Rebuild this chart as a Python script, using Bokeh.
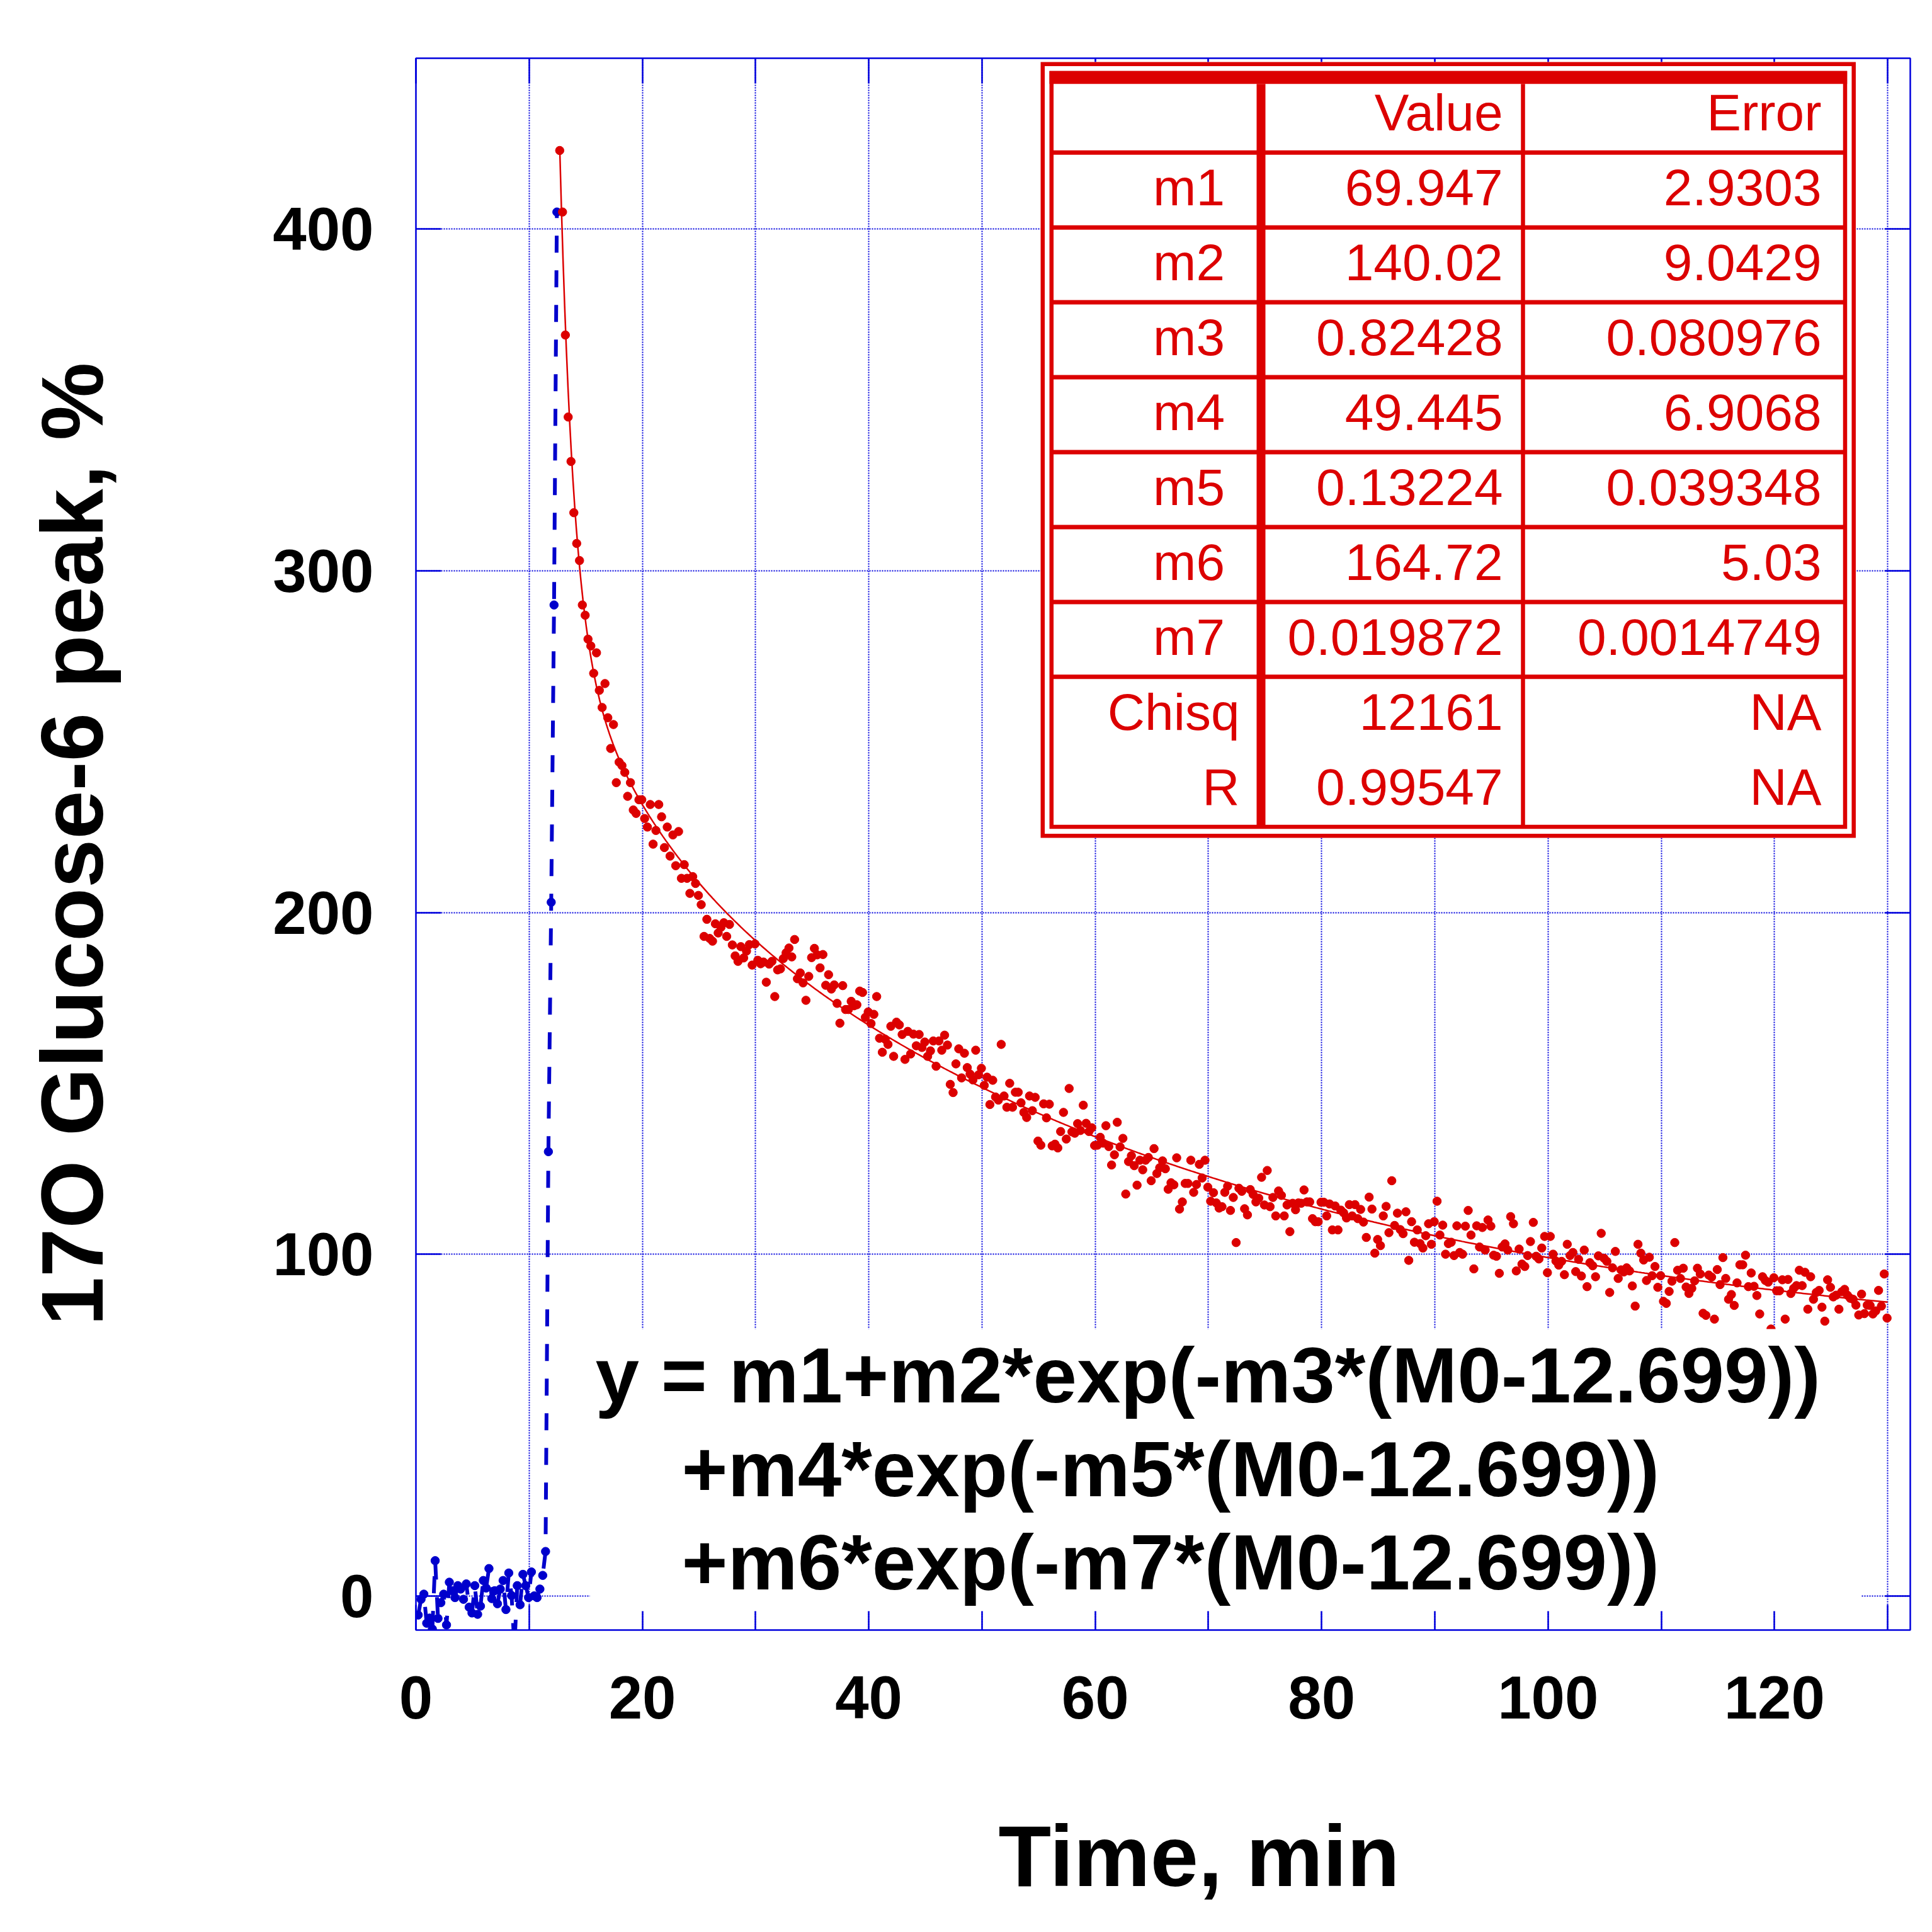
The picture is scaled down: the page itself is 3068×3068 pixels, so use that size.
import numpy as np
from bokeh.plotting import figure
from bokeh.models import Range1d, FixedTicker, LinearAxis, Label, BoxAnnotation, CustomJSTickFormatter
from bokeh.embed import file_html
from bokeh.resources import INLINE
from bokeh.core.properties import value

# ---------------- data ----------------
BLUE_T0 = 0.2
BLUE_DT = 0.25
BLUE_Y = [-5.6, -1, 0.5, -8, -6.5, -9.7, 10.3, -6.6, -2, 0.5,
          -8.5, 4, 1.5, -0.5, 3, 2, -1, 3.5, -3.3, -5,
          3, -5.4, -3, 4.5, 2.3, 8, -0.8, 1.5, -2.3, 2,
          4.5, -4, 6.7, 0.1, -15, 3, -2.6, 6.3, 3, -0.5,
          7, 0, -0.5, 2, 6, 13, 130, 203, 290, 405]

RED_T0 = 12.699
RED_DT = 0.25
RED_Y = [
    423, 405, 369, 345, 332, 317, 308, 303, 290, 287,
    280, 278, 270, 276, 265, 260, 267, 257, 248, 255,
    238, 244, 243, 241, 234, 238, 230, 229, 233, 233,
    227.5, 225, 231.6, 220, 224, 231.6, 228, 219, 225, 216.5,
    222.7, 213.7, 223.7, 210, 214, 210, 205.6, 210.5, 208.5, 205,
    202.3, 193, 198, 192.4, 191.6, 196.7, 194, 195.7, 197, 193,
    196.5, 190.5, 187.3, 185.7, 190, 186.7, 188.7, 190.6, 184.6, 190.8,
    186, 185, 185.5, 179.6, 184.9, 185.7, 175.4, 183.2, 183.5, 186.5,
    188.2, 189.6, 187, 192.1, 180.6, 182.3, 179.4, 174.3, 181.3, 186.8,
    189.5, 187.6, 183.8, 187.7, 178.7, 181.8, 177.6, 178.8, 173.4, 167.6,
    178.6, 171.6, 171.6, 174, 172.7, 173, 177, 176.6, 169.3, 170.9,
    167.5, 170.2, 175.4, 163.2, 159.1, 162.9, 161.4, 166.7, 157.9, 167.9,
    167.1, 164.3, 157, 165.2, 158.6, 164.4, 161, 164.3, 160.5, 162.1,
    157.9, 159.5, 162.4, 155, 162.4, 159.7, 164.1, 161.2, 149.7, 147.3,
    155.7, 160.1, 151.6, 158.8, 154.6, 152.7, 151, 159.7, 152.5, 154.4,
    149.4, 151.8, 143.8, 150.9, 146, 145.1, 161.4, 146.3, 143, 150,
    143, 147.4, 147.4, 144.3, 141.5, 140, 146.3, 142, 145.9, 133.1,
    131.9, 144.0, 139.9, 143.9, 131.7, 132.2, 131.1, 135.9, 141.5, 133.7,
    148.5, 135.8, 135.4, 138.2, 136.2, 143.6, 138.3, 135.9, 137.0, 131.8,
    131.9, 134.2, 132.5, 137.6, 131.5, 126.1, 129.1, 138.6, 131.4, 133.9,
    117.6, 127.1, 128.8, 125.9, 120.2, 127.5, 124.7, 127.5, 128.3, 121.5,
    130.9, 123.6, 125.3, 127.3, 125.0, 119.0, 120.9, 120.3, 128.2, 113.2,
    115.3, 120.7, 120.7, 127.5, 118.1, 120.4, 126.3, 122.3, 127.5, 119.6,
    115.5, 118, 115.0, 113.5, 113.9, 118.1, 119.9, 112.8, 116.6, 103.4,
    119.3, 118.4, 113.3, 111.5, 118.9, 117.5, 115.3, 116.4, 122.5, 114.4,
    124.5, 113.9, 116.6, 111.2, 118.5, 117.2, 111.2, 114.4, 106.6, 114.9,
    113, 115.0, 114.9, 118.8, 115.3, 115.3, 110.4, 109.5, 109.5, 115.2,
    115.2, 111.2, 114.7, 107.1, 114.1, 107.1, 112.9, 112.1, 110.6, 114.5,
    111.2, 114.5, 110.4, 113.1, 109.4, 104.9, 116.7, 113.2, 100.3, 104.3,
    102.5, 111.2, 114.0, 106.3, 121.5, 108.4, 112.0, 107.2, 106.0, 112.4,
    98.2, 109.5, 103.5, 107.1, 103.1, 101.8, 105.4, 108.9, 102.9, 109.5,
    115.5, 105.6, 108.5, 100.0, 103.1, 103.5, 99.6, 108.3, 100.5, 100.0,
    108.2, 112.8, 105.6, 95.7, 108.3, 102.1, 107.8, 101.2, 110.0, 108.2,
    99.7, 99.4, 94.4, 102.1, 103, 101.2, 111.0, 108.9, 95.1, 101.5,
    97.1, 96.4, 99.6, 103.7, 109.3, 99.4, 98.6, 101.8, 105.2, 94.6,
    105.2, 100.0, 98.0, 96.8, 97.9, 94.0, 102.9, 99.6, 100.5, 94.9,
    98.5, 93.6, 101.2, 90.5, 97.5, 96.6, 93.4, 99.5, 106.1, 98.8,
    97.9, 88.8, 96.0, 100.8, 92.9, 95.4, 94.8, 96.0, 95.1, 90.7,
    84.8, 102.9, 100.3, 98.3, 92.3, 99.1, 93.7, 96.4, 90.3, 93.7,
    86.2, 85.6, 89.1, 92.1, 103.4, 95.3, 92.9, 95.9, 90.4, 88.5,
    90.0, 92.2, 95.9, 94.2, 82.7, 82.1, 93.9, 93.3, 81.0, 95.5,
    91.1, 99.0, 92.9, 86.8, 88.2, 85.0, 91.6, 96.9, 96.9, 99.7,
    90.5, 94.5, 90.6, 87.9, 82.5, 93.4, 92.3, 91.8, 78.1, 93.1,
    89.3, 89.3, 92.5, 81.0, 92.6, 88.5, 90, 90.8, 95.3, 90.8,
    94.7, 83.9, 93.4, 86.8, 88.8, 89.4, 84.5, 80.4, 92.5, 90.3,
    87.5, 88.0, 83.9, 89.0, 89.7, 88.0, 87.1, 86.8, 85.1, 82.2,
    88.3, 82.6, 85.1, 85.0, 82.5, 83.4, 89.4, 84.8, 94.2, 81.3,
]

PARAM_NAMES = ["m1", "m2", "m3", "m4", "m5", "m6", "m7"]
PARAM_VALUES = [69.947, 140.02, 0.82428, 49.445, 0.13224, 164.72, 0.019872]
PARAM_ERRORS = [2.9303, 9.0429, 0.080976, 6.9068, 0.039348, 5.03, 0.0014749]
CHISQ = 12161
R_VALUE = 0.99547
FIT_T0 = 12.699
FIT_T_END = 130.0

X_MAJOR_TICKS = [0, 20, 40, 60, 80, 100, 120]
X_MINOR_TICKS = [10, 30, 50, 70, 90, 110, 130]
Y_MAJOR_TICKS = [0, 100, 200, 300, 400]
X_LIMITS = (0, 132)
Y_LIMITS = (-10, 450)

X_TITLE = "Time, min"
Y_TITLE = "17O Glucose-6 peak, %"
EQ_LINES = ["y = m1+m2*exp(-m3*(M0-12.699))",
            "+m4*exp(-m5*(M0-12.699))",
            "+m6*exp(-m7*(M0-12.699))"]

# ---------------- style / layout ----------------
RED = "#DC0000"
BLUE = "#0000CC"
FRAME_BLUE = "#0000DD"
FONT = "Liberation Sans"

CANVAS = 3068
FRAME_LEFT, FRAME_TOP, FRAME_W, FRAME_H = 660, 92, 2373, 2496
BASE_FIX = 0.36   # empirical: alphabetic text is drawn this many ems low


def dx(px):
    return X_LIMITS[0] + (px - FRAME_LEFT) * (X_LIMITS[1] - X_LIMITS[0]) / FRAME_W


def dy(py):
    return Y_LIMITS[1] - (py - FRAME_TOP) * (Y_LIMITS[1] - Y_LIMITS[0]) / FRAME_H


def dyb(py, fs):
    return dy(py - BASE_FIX * fs)


p = figure(frame_width=FRAME_W, frame_height=FRAME_H,
           min_border_left=FRAME_LEFT,
           min_border_top=FRAME_TOP,
           min_border_right=CANVAS - FRAME_LEFT - FRAME_W,
           min_border_bottom=CANVAS - FRAME_TOP - FRAME_H,
           x_range=Range1d(*X_LIMITS), y_range=Range1d(*Y_LIMITS),
           output_backend="svg", toolbar_location=None)
p.background_fill_color = "white"
p.border_fill_color = "white"
p.outline_line_color = FRAME_BLUE
p.outline_line_width = 2.5

x_ticker = FixedTicker(ticks=X_MAJOR_TICKS, minor_ticks=X_MINOR_TICKS)
y_ticker = FixedTicker(ticks=Y_MAJOR_TICKS, minor_ticks=[])


def style_axis(ax, ticker, labels, standoff=0):
    ax.ticker = ticker
    ax.axis_line_color = None
    ax.major_tick_in = 40
    ax.major_tick_out = 0
    ax.minor_tick_in = 40
    ax.minor_tick_out = 0
    ax.major_tick_line_color = FRAME_BLUE
    ax.minor_tick_line_color = FRAME_BLUE
    ax.major_tick_line_width = 2.5
    ax.minor_tick_line_width = 2.5
    if labels:
        ax.major_label_text_font = FONT
        ax.major_label_text_font_style = "bold"
        ax.major_label_text_font_size = "96px"
        ax.major_label_text_color = "black"
        ax.major_label_standoff = standoff
        ax.axis_label_text_font = FONT
        ax.axis_label_text_font_style = "bold"
        ax.axis_label_text_color = "black"
    else:
        ax.formatter = CustomJSTickFormatter(code="return ''")
        ax.major_label_text_font_size = "1px"
        ax.major_label_standoff = 0


xa, ya = p.xaxis[0], p.yaxis[0]
style_axis(xa, x_ticker, True, 73)
style_axis(ya, y_ticker, True, 67)
xa.axis_label = "\u00a0\u00a0\u00a0" + X_TITLE
xa.axis_label_text_font_size = "137px"
xa.axis_label_standoff = 139
ya.axis_label = Y_TITLE
ya.axis_label_text_font_size = "139px"
ya.axis_label_standoff = 238

top_ax = LinearAxis()
right_ax = LinearAxis()
style_axis(top_ax, x_ticker, False)
style_axis(right_ax, y_ticker, False)
p.add_layout(top_ax, "above")
p.add_layout(right_ax, "right")

for g, tk in ((p.xgrid[0], x_ticker), (p.ygrid[0], y_ticker)):
    g.ticker = tk
    g.grid_line_color = FRAME_BLUE
    g.grid_line_width = 2
    g.grid_line_dash = "2 2"
    g.minor_grid_line_color = FRAME_BLUE
    g.minor_grid_line_width = 2
    g.minor_grid_line_dash = "2 2"

# ---------------- data marks ----------------
blue_t = BLUE_T0 + BLUE_DT * np.arange(len(BLUE_Y))
red_t = RED_T0 + RED_DT * np.arange(len(RED_Y))

m1, m2, m3, m4, m5, m6, m7 = PARAM_VALUES
fit_t = np.linspace(FIT_T0, FIT_T_END, 800)
tau = fit_t - FIT_T0
fit_y = m1 + m2 * np.exp(-m3 * tau) + m4 * np.exp(-m5 * tau) + m6 * np.exp(-m7 * tau)

p.line(blue_t, BLUE_Y, line_color=BLUE, line_width=6, line_dash="27 28")
p.scatter(blue_t, BLUE_Y, size=13.5, marker="circle", fill_color=BLUE, line_color=BLUE)
p.line(fit_t, fit_y, line_color=RED, line_width=2.5)
p.scatter(red_t, RED_Y, size=13.5, marker="circle", fill_color=RED, line_color=RED)

# ---------------- parameter table ----------------
T_FILL = (1652, 2946.5, 98, 1330)
T_OUTER = (1655.3, 2943.2, 101.3, 1326.7)
T_INNER = (1669.3, 2929.5, 115.5, 1312.6)
T_BAR = (1666, 2932.7, 112.3, 132.7)
ROW0_LINE, ROW_PITCH = 241.7, 118.95
COL_SEPS = [(2002, 14), (2418, 6.5)]
HEAD_BASE, ROW0_BASE = 207.7, 326.7
X_NAME_M, X_NAME_OTHER, X_VAL, X_ERR = 1944.5, 1968, 2386, 2892
TABLE_FS = 82

lvl = "annotation"
p.quad(left=[dx(T_FILL[0])], right=[dx(T_FILL[1])], top=[dy(T_FILL[2])], bottom=[dy(T_FILL[3])],
       fill_color="white", line_color=None, level=lvl)
for box in (T_OUTER, T_INNER):
    p.quad(left=[dx(box[0])], right=[dx(box[1])], top=[dy(box[2])], bottom=[dy(box[3])],
           fill_color=None, line_color=RED, line_width=6.5, line_join="miter", level=lvl)
p.quad(left=[dx(T_BAR[0])], right=[dx(T_BAR[1])], top=[dy(T_BAR[2])], bottom=[dy(T_BAR[3])],
       fill_color=RED, line_color=None, level=lvl)

row_names = PARAM_NAMES + ["Chisq", "R"]
row_vals = [str(v) for v in PARAM_VALUES] + [str(CHISQ), str(R_VALUE)]
row_errs = [str(e) for e in PARAM_ERRORS] + ["NA", "NA"]
n_rows = len(row_names)

line_y = [dy(ROW0_LINE + ROW_PITCH * k) for k in range(n_rows - 1)]
p.segment(x0=[dx(T_INNER[0])] * len(line_y), x1=[dx(T_INNER[1])] * len(line_y),
          y0=line_y, y1=line_y, line_color=RED, line_width=7, level=lvl)
for cx, w in COL_SEPS:
    p.segment(x0=[dx(cx)], x1=[dx(cx)], y0=[dy(T_BAR[3])], y1=[dy(T_INNER[3])],
              line_color=RED, line_width=w, level=lvl)

tx, ty, tt = [], [], []
tx += [dx(X_VAL), dx(X_ERR)]
ty += [dyb(HEAD_BASE, TABLE_FS)] * 2
tt += ["Value", "Error"]
for k in range(n_rows):
    base = dyb(ROW0_BASE + ROW_PITCH * k, TABLE_FS)
    name_x = X_NAME_M if row_names[k].startswith("m") else X_NAME_OTHER
    tx += [dx(name_x), dx(X_VAL), dx(X_ERR)]
    ty += [base] * 3
    tt += [row_names[k], row_vals[k], row_errs[k]]
p.text(x=tx, y=ty, text=tt, text_font=value(FONT), text_font_size=value("%dpx" % TABLE_FS),
       text_color=RED, text_align="right", text_baseline="alphabetic", level=lvl)

# ---------------- equation ----------------
EQ_FS = 125
p.add_layout(BoxAnnotation(left=dx(936.5), right=dx(2955), top=dy(2110), bottom=dy(2558),
                           fill_color="white", fill_alpha=1.0, line_color=None))
EQ_POS = [(945, 2228), (1082, 2376.5), (1082, 2525)]
for txt, (ex, ey) in zip(EQ_LINES, EQ_POS):
    p.add_layout(Label(x=dx(ex), y=dyb(ey, EQ_FS), text=txt, text_font=FONT, text_font_style="bold",
                       text_font_size="%dpx" % EQ_FS, text_color="black",
                       text_align="left", text_baseline="alphabetic"))

with open("out.html", "w") as f:
    f.write(file_html(p, INLINE))
